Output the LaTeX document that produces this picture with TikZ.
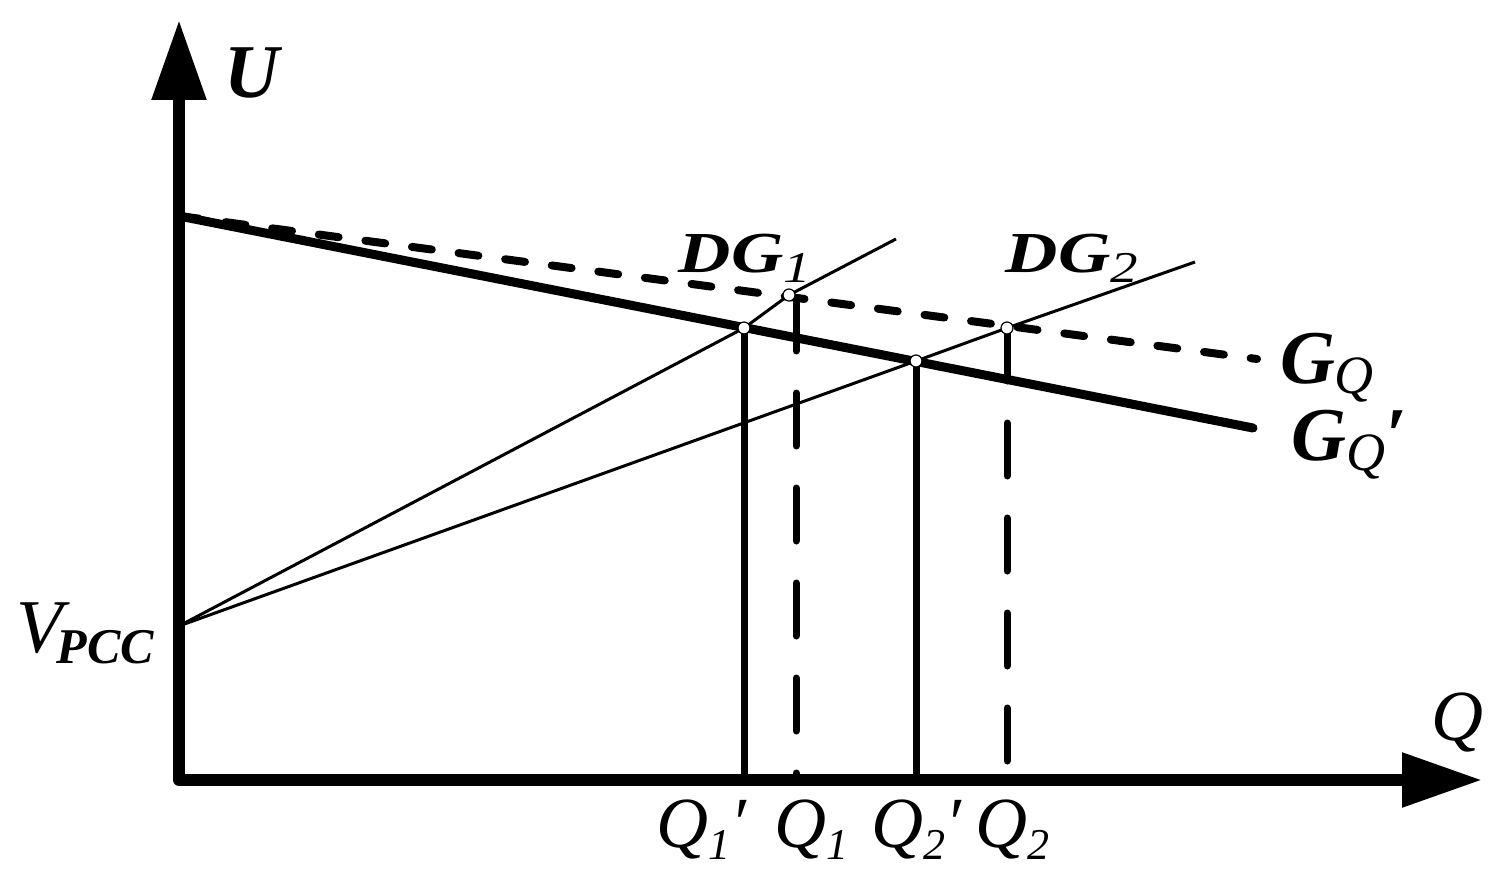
\documentclass[tikz,border=0pt]{standalone}
\usepackage{fontspec}
\setmainfont{Liberation Serif}
\usetikzlibrary{arrows.meta,calc}

\begin{document}
\begin{tikzpicture}
	[
	 x = 0.5pt,
	 y = -0.5pt,
	 axis/.style = {line width = 6pt,
	                line join = round,
	                {Triangle[length=40pt,width=26pt]}-{Triangle[length=40pt,width=26pt]}
	               },
	 GQd/.style  = {line width = 4pt, line cap = round, dash pattern = on 10pt off 13.5pt},
	 GQs/.style  = {line width = 4.5pt, line cap = round},
	 DG/.style   = {line width = 1.5pt},
	 QV/.style   = {line width = 3.5pt},
	 QVd/.style  = {line width = 3.5pt, line cap = round, dash pattern = on 26.5pt off 21pt},
	 pt/.style   = {circle, draw, fill = white, line width = 0.6pt,
	                minimum size = 6pt, inner sep = 0pt},
	 lab/.style  = {inner sep = 0pt, anchor = base}
	]
	
	\newcommand{\sbs}[3]{\raisebox{-#1}{\fontsize{#2}{#2}\selectfont\mdseries\itshape #3}}
	\newcommand{\Qf}{\fontsize{36}{36}\selectfont\itshape}
	\newcommand{\Gf}{\fontsize{38}{38}\selectfont\bfseries\itshape}
	
	\useasboundingbox (0,0) rectangle (1506,883);
	
	\coordinate (O)    at (179,780);
	\coordinate (Ut)   at (179,20);
	\coordinate (Qt)   at (1482,780);
	\coordinate (A)    at (179,216);
	\coordinate (V)    at (179,626);
	\coordinate (GQe)  at (1257,359);
	\coordinate (GQse) at (1253,428);
	\coordinate (DG1e) at (896,239);
	\coordinate (DG2e) at (1195,262);
	\coordinate (P1s)  at (744,328);
	\coordinate (P1)   at (789,295);
	\coordinate (P2s)  at (916,361);
	\coordinate (P2)   at (1007,328);
	\coordinate (Q1t)  at (796,298);
	
	\draw[GQd] (A) -- (GQe);
	\draw[GQs] (A) -- (GQse);
	\draw[DG]  (V) -- (P1s) -- (P1) -- (DG1e);
	\draw[DG]  (V) -- (P2s) -- (P2) -- (DG2e);
	
	\draw[QV]  (P1s) -- (P1s |- O);
	\draw[QVd] (Q1t) -- (Q1t |- O);
	\draw[QV]  (P2s) -- (P2s |- O);
	\draw[QVd] (P2)  -- (P2 |- O);
	
	\node[pt] (C1s) at (P1s) {};
	\node[pt] (C1)  at (P1)  {};
	\node[pt] (C2s) at (P2s) {};
	\node[pt] (C2)  at (P2)  {};
	
	\draw[axis] (Ut) -- (O) -- (Qt);
	
	\node[lab] (U)   at (252,98)  {\Gf U};
	\node[lab] (Q)   at (1457,740) {\Qf Q};
	\node[lab] (VP)  at (85,652)  {\fontsize{38}{38}\selectfont\itshape V\kern-3pt\raisebox{-5.5pt}{\fontsize{25}{25}\selectfont\bfseries\itshape PCC}};
	\node[lab] (DGa) at (745,272) {\scalebox{1.25}[1]{\fontsize{29}{29}\selectfont\bfseries\itshape DG\sbs{5pt}{22}{1}}};
	\node[lab] (DGb) at (1072,272) {\scalebox{1.25}[1]{\fontsize{29}{29}\selectfont\bfseries\itshape DG\sbs{5pt}{22}{2}}};
	\node[lab] (GQ)  at (1327,383) {\Gf G\sbs{5pt}{27}{Q}};
	\node[lab] (GQp) at (1349,460) {\Gf G\sbs{5pt}{27}{Q}′};
	\node[lab] (Qa)  at (701,847) {\Qf Q\sbs{6pt}{22}{1}′};
	\node[lab] (Qb)  at (811,847) {\Qf Q\sbs{6pt}{22}{1}};
	\node[lab] (Qc)  at (916,847) {\Qf Q\sbs{6pt}{22}{2}′};
	\node[lab] (Qd)  at (1012,847) {\Qf Q\sbs{6pt}{22}{2}};
\end{tikzpicture}
\end{document}
